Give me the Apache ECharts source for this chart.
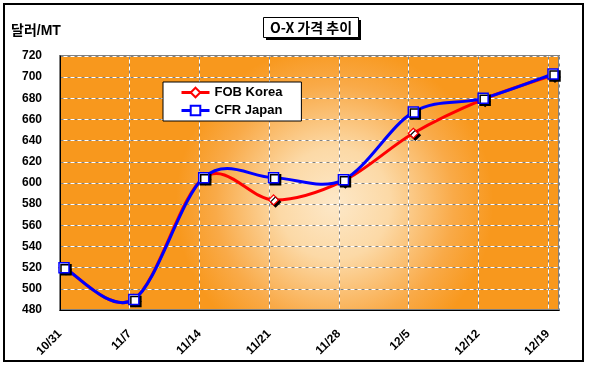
<!DOCTYPE html>
<html><head><meta charset="utf-8">
<script src="https://cdn.jsdelivr.net/npm/echarts@6/dist/echarts.min.js"></script>
<style>html,body{margin:0;padding:0;background:#fff}#c{width:589px;height:366px}</style>
</head><body><div id="c"></div>
<script>
const categories = ['10/31','11/7','11/14','11/21','11/28','12/5','12/12','12/19'];
const fobKorea = [520, 490, 605, 584, 602, 647, 679, 702];
const cfrJapan = [520, 490, 605, 605, 603, 667, 680, 703];
const yTicks = [480, 720, 20]; // min, max, step
const titleText = 'O-X 가격 추이';
const unitText = '달러/MT';

const FONT = '"Liberation Sans", Arial, "Noto Sans CJK KR", sans-serif';
const chart = echarts.init(document.getElementById('c'), null, {renderer:'canvas'});

const valueX = (show, color, offset) => ({
  type:'value', gridIndex:1, min:0, max:7.16, interval:1,
  axisLine:{show:show, lineStyle:{color:'#000', width:1}, onZero:false},
  axisTick:{show:false},
  axisLabel:{show:show, rotate:45, margin:22, fontFamily:FONT, fontWeight:'bold', fontSize:12, color:'#000',
    showMaxLabel:false,
    formatter: v => Number.isInteger(v) && categories[v] !== undefined ? categories[v] : ''},
  splitLine:{show:true, lineStyle:{color:color, width:1, type:[4,3], dashOffset:offset}}
});
const valueY = (show, color, offset) => ({
  type:'value', gridIndex:1, min:yTicks[0], max:yTicks[1], interval:yTicks[2],
  axisLine:{show:show, lineStyle:{color:'#000', width:1}},
  axisTick:{show:false},
  axisLabel:{show:show, margin:18, fontFamily:FONT, fontWeight:'bold', fontSize:12, color:'#000'},
  splitLine:{show:true, lineStyle:{color:color, width:1, type:[4,3], dashOffset:offset}}
});

// Smooth (Excel-like) curve drawn through the axis scales, one bezier segment per data item
function curveSeries(name, values, color, z) {
  return {
    name:name+' curve', type:'custom', xAxisIndex:0, yAxisIndex:0, z:z, silent:true,
    data: values.map((v, i) => [i, v]),
    renderItem: (params, api) => {
      const i = params.dataIndex, n = values.length;
      if (i >= n - 1) return null;
      const P = k => api.coord([Math.max(0, Math.min(n - 1, k)), values[Math.max(0, Math.min(n - 1, k))]]);
      const p0 = P(i - 1), p1 = P(i), p2 = P(i + 1), p3 = P(i + 2);
      const t = 1 / 6;
      return {
        type:'bezierCurve',
        shape:{x1:p1[0], y1:p1[1], x2:p2[0], y2:p2[1],
          cpx1:p1[0] + (p2[0] - p0[0]) * t, cpy1:p1[1] + (p2[1] - p0[1]) * t,
          cpx2:p2[0] - (p3[0] - p1[0]) * t, cpy2:p2[1] - (p3[1] - p1[1]) * t},
        style:{stroke:color, lineWidth:3, fill:null, lineCap:'round'}
      };
    }
  };
}

chart.setOption({
  animation:false,
  backgroundColor:'#fff',
  title:[
    {text:unitText, left:11, top:24, padding:0,
     textStyle:{fontFamily:FONT, fontWeight:'bold', fontSize:14, color:'#000'}}
  ],
  legend:{
    orient:'vertical', left:163, top:82, padding:[4,19,4,17], itemGap:5,
    itemWidth:28, itemHeight:12,
    backgroundColor:'#fff', borderColor:'#000', borderWidth:1,
    textStyle:{fontFamily:FONT, fontWeight:'bold', fontSize:13, color:'#000'},
    data:[
      {name:'FOB Korea', lineStyle:{color:'#ff0000', width:3, opacity:1}},
      {name:'CFR Japan', lineStyle:{color:'#0000ff', width:3, opacity:1}}
    ]
  },
  graphic:[
    {type:'rect', shape:{x:4,y:4,width:579,height:357}, style:{fill:null, stroke:'#000', lineWidth:2}, z:-10},
    {type:'rect', shape:{x:266,y:20,width:95,height:20}, style:{fill:'#000'}, z:10},
    {type:'rect', shape:{x:263.5,y:17.5,width:95,height:20}, style:{fill:'#fff', stroke:'#000', lineWidth:1}, z:11},
    {type:'text', x:311, y:28, z:12,
     style:{text:titleText, textAlign:'center', textVerticalAlign:'middle',
       font:'bold 14px "Noto Sans CJK KR", "Liberation Sans", sans-serif', fill:'#000'}}
  ],
  grid:[
    {left:64, top:56, width:489, height:254, show:false},
    {left:60, top:56, width:499, height:254, show:true, borderColor:'#808080', borderWidth:2,
     backgroundColor:{type:'radial', x:0.55, y:0.58, r:0.62,
       colorStops:[{offset:0,color:'#fde8c8'},{offset:0.35,color:'#fcd9a6'},{offset:0.75,color:'#f9aa48'},{offset:1,color:'#f8981d'}]}}
  ],
  xAxis:[
    {type:'category', gridIndex:0, data:categories, boundaryGap:false, show:false},
    valueX(true, '#808080', 0),
    valueX(false, '#ffffff', 3.5)
  ],
  yAxis:[
    {type:'value', gridIndex:0, min:yTicks[0], max:yTicks[1], interval:yTicks[2], show:false, splitLine:{show:false}},
    valueY(true, '#808080', 0),
    valueY(false, '#ffffff', 3.5)
  ],
  series:[
    curveSeries('FOB Korea', fobKorea, '#ff0000', 2),
    curveSeries('CFR Japan', cfrJapan, '#0000ff', 3),
    {name:'FOB Korea', type:'line', xAxisIndex:0, yAxisIndex:0, data:fobKorea,
     symbol:'diamond', symbolSize:10, z:4,
     lineStyle:{color:'#ff0000', width:3, opacity:0},
     itemStyle:{color:'#fff', borderColor:'#ff0000', borderWidth:1.2,
       shadowColor:'#000', shadowOffsetX:2, shadowOffsetY:2, shadowBlur:0.01}},
    {name:'CFR Japan', type:'line', xAxisIndex:0, yAxisIndex:0, data:cfrJapan,
     symbol:'rect', symbolSize:10, z:5,
     lineStyle:{color:'#0000ff', width:3, opacity:0},
     itemStyle:{color:'#fff', borderColor:'#0000ff', borderWidth:1.5,
       shadowColor:'#000', shadowOffsetX:2, shadowOffsetY:2, shadowBlur:0.01}}
  ]
});
</script></body></html>
